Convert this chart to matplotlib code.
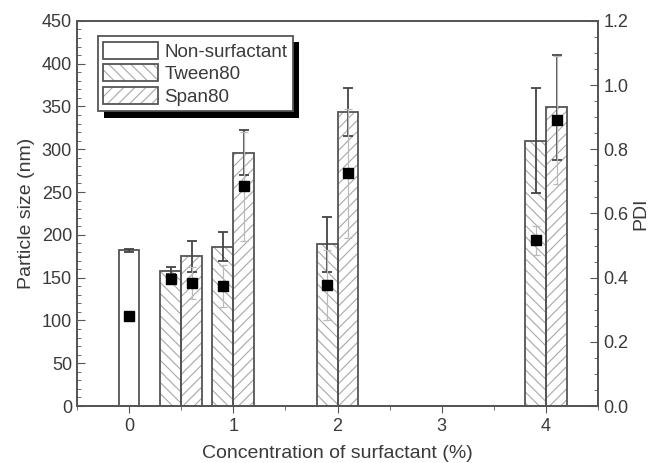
import numpy as np
import matplotlib
matplotlib.use('Agg')
import matplotlib.pyplot as plt

plt.rcParams['font.family'] = ['Liberation Sans', 'DejaVu Sans']
plt.rcParams['hatch.linewidth'] = 0.8

# data
conc = np.array([0.5, 1, 2, 4])
ns_size, ns_size_err = 182, 2
ns_pdi, ns_pdi_err = 0.28, 0.01
tween_size = [158, 186, 189, 310]
tween_size_err = [4, 17, 32, 61]
span_size = [175, 296, 344, 349]
span_size_err = [18, 26, 28, 61]
tween_pdi = [0.395, 0.375, 0.377, 0.517]
tween_pdi_err = [0.01, 0.065, 0.11, 0.045]
span_pdi = [0.382, 0.684, 0.725, 0.891]
span_pdi_err = [0.05, 0.17, 0.2, 0.2]

edge = '#555555'
hatchc = '#a8a8a8'
txt = '#3a3a3a'
w = 0.2

fig = plt.figure(figsize=(6.51, 4.63), dpi=100)
ax = fig.add_axes([0.118, 0.123, 0.801, 0.832])

# bars: hatch layer then outline layer
h0 = ax.bar([0], [ns_size], w, color='white', edgecolor=edge, lw=1.3, zorder=2)
h1 = ax.bar(conc - 0.1, tween_size, w, color='white', edgecolor=hatchc, lw=0, hatch='\\\\\\', zorder=2)
e1 = ax.bar(conc - 0.1, tween_size, w, fill=False, edgecolor=edge, lw=1.3, zorder=3)
h2 = ax.bar(conc + 0.1, span_size, w, color='white', edgecolor=hatchc, lw=0, hatch='///', zorder=2)
e2 = ax.bar(conc + 0.1, span_size, w, fill=False, edgecolor=edge, lw=1.3, zorder=3)

ekw = dict(fmt='none', ecolor='#444444', elinewidth=1.3, capsize=3.5, capthick=1.3, zorder=4)
ax.errorbar([0], [ns_size], yerr=[ns_size_err], **ekw)
ax.errorbar(conc - 0.1, tween_size, yerr=tween_size_err, **ekw)
ax.errorbar(conc + 0.1, span_size, yerr=span_size_err, **ekw)

ax.set_xlim(-0.5, 4.5)
ax.set_ylim(0, 450)
ax.set_xticks([0, 1, 2, 3, 4])
ax.set_xticks(np.arange(-0.5, 4.6, 0.5), minor=True)
ax.set_yticks(np.arange(0, 451, 50))
ax.set_yticks(np.arange(0, 451, 10), minor=True)
ax.tick_params(axis='y', which='both', direction='in', colors=edge, labelcolor=txt, labelsize=13)
ax.tick_params(axis='y', which='major', length=6)
ax.tick_params(axis='y', which='minor', length=3)
ax.tick_params(axis='x', which='both', direction='out', colors=edge, labelcolor=txt, labelsize=13)
ax.tick_params(axis='x', which='major', length=5)
ax.tick_params(axis='x', which='minor', length=3)
ax.set_xlabel('Concentration of surfactant (%)', fontsize=14, color=txt, labelpad=7)
ax.set_ylabel('Particle size (nm)', fontsize=14, color=txt, labelpad=5)
for s in ax.spines.values():
    s.set_color(edge)
    s.set_linewidth(1.3)

# PDI on right axis
ax2 = ax.twinx()
pkw = dict(fmt='s', color='black', ms=7, ecolor='#bbbbbb', elinewidth=0.9, capsize=3, capthick=0.9, zorder=5)
ax2.errorbar([0], [ns_pdi], yerr=[ns_pdi_err], **pkw)
ax2.errorbar(conc - 0.1, tween_pdi, yerr=tween_pdi_err, **pkw)
ax2.errorbar(conc + 0.1, span_pdi, yerr=span_pdi_err, **pkw)
ax2.set_ylim(0, 1.2)
ax2.set_yticks(np.arange(0, 1.21, 0.2))
ax2.set_yticks(np.arange(0, 1.21, 0.05), minor=True)
ax2.set_yticklabels(['%.1f' % v for v in np.arange(0, 1.21, 0.2)])
ax2.tick_params(axis='y', which='both', direction='in', colors=edge, labelcolor=txt, labelsize=13)
ax2.tick_params(axis='y', which='major', length=6)
ax2.tick_params(axis='y', which='minor', length=3)
ax2.set_ylabel('PDI', fontsize=14, color=txt, labelpad=3)
for s in ax2.spines.values():
    s.set_color(edge)
    s.set_linewidth(1.3)

leg = ax2.legend([h0, (h1, e1), (h2, e2)], ['Non-surfactant', 'Tween80', 'Span80'],
                 loc='upper left', bbox_to_anchor=(0.04, 0.96), fancybox=False,
                 shadow={'ox': 4.5, 'oy': -4.5, 'facecolor': 'black', 'edgecolor': 'none', 'alpha': 1},
                 edgecolor=edge, fontsize=13.5, handlelength=2.9, handleheight=1.0,
                 borderpad=0.3, labelspacing=0.2, handletextpad=0.35, borderaxespad=0)
leg.get_frame().set_linewidth(1.3)
for t in leg.get_texts():
    t.set_color(txt)

fig.savefig('out.png', dpi=100)
